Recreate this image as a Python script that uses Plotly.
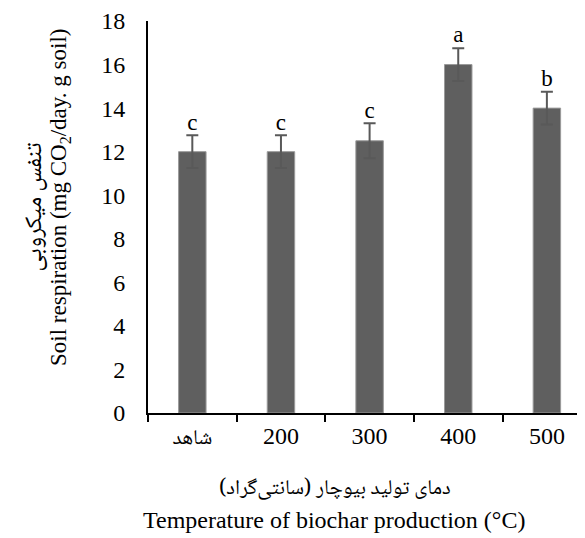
import plotly.graph_objects as go

categories = ["شاهد", "200", "300", "400", "500"]
values = [12.0, 12.0, 12.5, 16.0, 14.0]
errors = [0.75, 0.75, 0.8, 0.75, 0.75]
letters = ["c", "c", "c", "a", "b"]

FONT = "Liberation Serif, Times New Roman, serif"
ARABIC = "Noto Naskh Arabic, Noto Sans Arabic, DejaVu Sans, sans-serif"

def tick_label(c):
    if c.isdigit():
        return c
    return "<span style='font-size:21px;font-family:%s'>%s</span>" % (ARABIC.split(",")[0], c)

fig = go.Figure()
fig.add_trace(go.Bar(
    x=categories, y=values, width=0.31,
    marker=dict(color="#5f5f5f", line=dict(color="#9a9a9a", width=1)),
    error_y=dict(type="data", array=errors, visible=True, color="#595959", thickness=2, width=6),
    showlegend=False,
))
fig.add_trace(go.Scatter(
    x=categories, y=[v + e for v, e in zip(values, errors)],
    mode="text", text=letters, textposition="top center",
    textfont=dict(family=FONT, size=23, color="#000"),
    showlegend=False, cliponaxis=False,
))

fig.update_layout(
    width=577, height=530,
    margin=dict(l=140, r=0, t=13, b=125),
    plot_bgcolor="white", paper_bgcolor="white",
    font=dict(family=FONT, size=24, color="#000"),
    xaxis=dict(
        type="category", range=[-0.5, 4.43], tickson="boundaries",
        tickmode="array", tickvals=categories, ticktext=[tick_label(c) for c in categories],
        showline=True, linecolor="#000", linewidth=2,
        ticks="outside", ticklen=7, tickwidth=1.5, tickcolor="#000",
        showgrid=False, tickfont=dict(family=FONT, size=24),
    ),
    yaxis=dict(
        range=[0, 18], dtick=2, showline=True, linecolor="#000", linewidth=2,
        ticks="", showgrid=False, zeroline=False,
        tickfont=dict(family=FONT, size=24), ticklabelstandoff=16,
    ),
    annotations=[
        dict(text="Soil respiration (mg CO<sub>2</sub>/day. g soil)", textangle=-90,
             xref="paper", yref="paper", x=-0.2, y=0.55, xanchor="center", yanchor="middle",
             showarrow=False, font=dict(family=FONT, size=23)),
        dict(text="تنفس میکروبی", textangle=-90,
             xref="paper", yref="paper", x=-0.258, y=0.525, xanchor="center", yanchor="middle",
             showarrow=False, font=dict(family=ARABIC, size=24)),
        dict(text="دمای تولید بیوچار (سانتی‌گراد)",
             xref="paper", yref="paper", x=0.428, y=-0.196, xanchor="center", yanchor="middle",
             showarrow=False, font=dict(family=ARABIC, size=21)),
        dict(text="Temperature of biochar production (°C)",
             xref="paper", yref="paper", x=0.426, y=-0.273, xanchor="center", yanchor="middle",
             showarrow=False, font=dict(family=FONT, size=24)),
    ],
)

fig.write_html("out.html")
